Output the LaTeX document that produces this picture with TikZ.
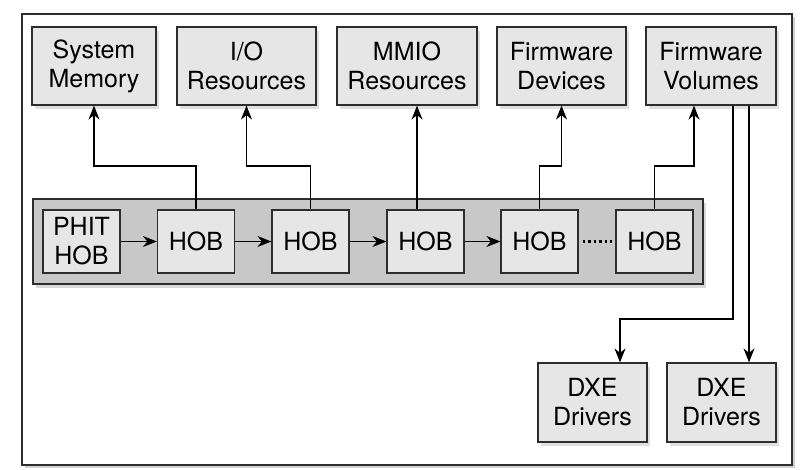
\documentclass[tikz,border=0pt]{standalone}
\usepackage{fontspec}
\setmainfont{TeX Gyre Heros}
\usetikzlibrary{arrows.meta,shadows}
\definecolor{boxgray}{RGB}{230,230,230}
\definecolor{listgray}{RGB}{200,200,200}
\definecolor{edgegray}{RGB}{45,45,45}

\begin{document}
\begin{tikzpicture}[x=1pt,y=-1pt,
	plain/.style={draw=edgegray,fill=boxgray,line width=1.2pt,inner sep=0pt,align=center,font=\fontsize{25}{29}\selectfont},
	box/.style={plain,minimum height=78pt,drop shadow={opacity=0.25,shadow xshift=3pt,shadow yshift=-4pt}},
	hob/.style={plain,minimum width=77pt,minimum height=63pt},
	listbox/.style={draw=edgegray,fill=listgray,line width=1.2pt,minimum width=670pt,minimum height=85pt,drop shadow={opacity=0.3,shadow xshift=3pt,shadow yshift=-4pt}},
	link/.style={line width=1.3pt,-{Stealth[length=14pt,width=11pt,inset=4.5pt]}},
	dotline/.style={line width=2.5pt,dash pattern=on 2.5pt off 3pt,shorten <=4pt,shorten >=3pt}]
	\fill[white] (0,0) rectangle (805,470);
	\useasboundingbox (0,0) rectangle (805,470);
	\filldraw[draw=edgegray,fill=white,line width=1.2pt,drop shadow={opacity=0.35,shadow xshift=3pt,shadow yshift=-3pt}] (22,14) rectangle (792,465);

	\node[box,minimum width=124pt] (sysmem) at (94,66) {System\\Memory};
	\node[box,minimum width=139pt] (iores) at (246.5,66) {I/O\\Resources};
	\node[box,minimum width=140pt] (mmio) at (407,66) {MMIO\\Resources};
	\node[box,minimum width=129pt] (fwdev) at (561.5,66) {Firmware\\Devices};
	\node[box,minimum width=130pt] (fwvol) at (711,66) {Firmware\\Volumes};

	\node[listbox] (hoblist) at (368,241.5) {};
	\node[hob] (phit) at (81.5,241.5) {PHIT\\HOB};
	\node[hob] (hobA) at (196,241.5) {HOB};
	\node[hob] (hobB) at (310.5,241.5) {HOB};
	\node[hob] (hobC) at (425.5,241.5) {HOB};
	\node[hob] (hobD) at (539.5,241.5) {HOB};
	\node[hob] (hobE) at (654.5,241.5) {HOB};

	\node[box,minimum width=109pt,minimum height=79pt] (dxeA) at (592.5,402.5) {DXE\\Drivers};
	\node[box,minimum width=109pt,minimum height=79pt] (dxeB) at (721.5,402.5) {DXE\\Drivers};

	\draw[link] (phit) -- (hobA);
	\draw[link] (hobA) -- (hobB);
	\draw[link] (hobB) -- (hobC);
	\draw[link] (hobC) -- (hobD);
	\draw[dotline] (hobD) -- (hobE);

	\coordinate (mid) at (0,166);
	\coordinate (bend) at (0,319);
	\coordinate (hobCtop) at ([xshift=-8.5pt]hobC.north);
	\coordinate (volin) at ([xshift=-17pt]fwvol.south);
	\coordinate (volL) at ([xshift=22pt]fwvol.south);
	\coordinate (volR) at ([xshift=38pt]fwvol.south);
	\coordinate (dxeAin) at ([xshift=27.5pt]dxeA.north);

	\draw[link] (hobA.north) -- (hobA.north |- mid) -| (sysmem.south);
	\draw[link] (hobB.north) -- (hobB.north |- mid) -| (iores.south);
	\draw[link] (hobCtop) -- (hobCtop |- mmio.south);
	\draw[link] (hobD.north) -- (hobD.north |- mid) -| (fwdev.south);
	\draw[link] (hobE.north) -- (hobE.north |- mid) -| (volin);
	\draw[link] (volL) -- (volL |- bend) -| (dxeAin);
	\draw[link] (volR) -- (volR |- dxeB.north);
\end{tikzpicture}
\end{document}
